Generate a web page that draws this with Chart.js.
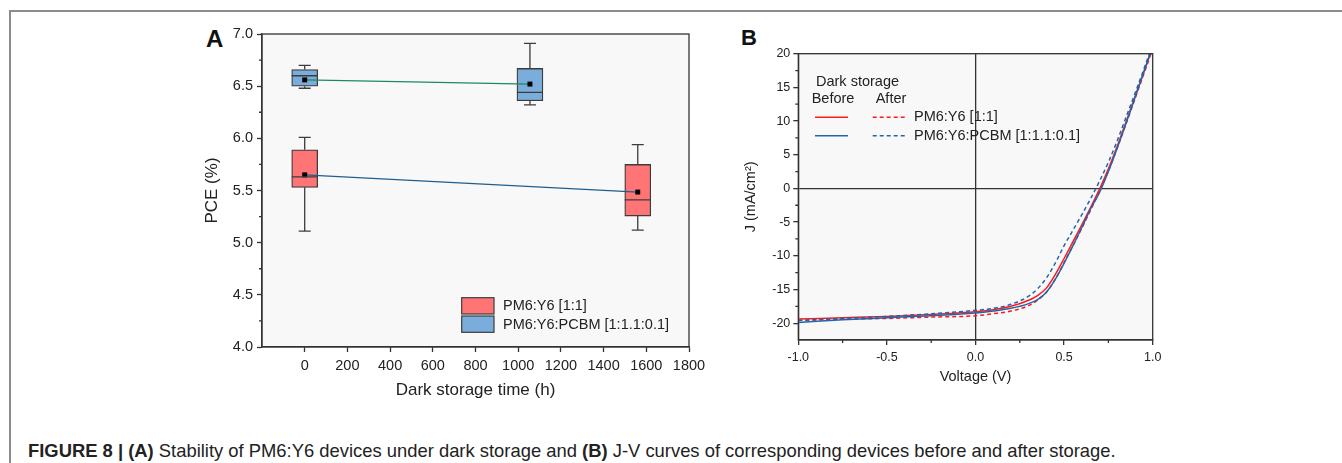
<!DOCTYPE html>
<html>
<head>
<meta charset="utf-8">
<script src="https://cdn.jsdelivr.net/npm/chart.js@4.4.1/dist/chart.umd.min.js"></script>
<style>
  body { margin: 0; background: #fff; width: 1342px; height: 463px; position: relative; overflow: hidden; font-family: 'Liberation Sans', Arial, sans-serif; }
  #frame { position: absolute; left: 9px; top: 10px; right: 0; bottom: 0; border-top: 2px solid #8c8c8c; border-left: 2px solid #8c8c8c; }
  .panel { position: absolute; font-weight: bold; color: #111; line-height: 1; }
  #chartA { position: absolute; left: 150px; top: 20px; }
  #chartB { position: absolute; left: 730px; top: 20px; }
  #caption { position: absolute; left: 28px; top: 441.5px; font-family: 'Liberation Sans', Arial, sans-serif; font-size: 18.4px; line-height: 1; color: #222; white-space: nowrap; }
</style>
</head>
<body>
<div id="frame"></div>
<div class="panel" style="left:206px; top:26.7px; font-size:24px;">A</div>
<div class="panel" style="left:741px; top:27.4px; font-size:22px;">B</div>
<canvas id="chartA" width="600" height="400"></canvas>
<canvas id="chartB" width="560" height="390"></canvas>
<div id="caption"><b>FIGURE 8 | (A)</b> Stability of PM6:Y6 devices under dark storage and <b>(B)</b> J-V curves of corresponding devices before and after storage.</div>

<script>
// ---- panel A: PCE box plots vs dark storage time ----
const hoursBinary = [0, 1560];      // PM6:Y6 [1:1]
const hoursTernary = [0, 1055];     // PM6:Y6:PCBM [1:1.1:0.1]

const binaryMin = [5.11, 5.12];
const binaryQ1 = [5.53, 5.255];
const binaryMedian = [5.63, 5.41];
const binaryQ3 = [5.89, 5.75];
const binaryMax = [6.01, 5.94];
const binaryMean = [5.65, 5.485];

const ternaryMin = [6.48, 6.32];
const ternaryQ1 = [6.50, 6.36];
const ternaryMedian = [6.60, 6.44];
const ternaryQ3 = [6.66, 6.67];
const ternaryMax = [6.70, 6.91];
const ternaryMean = [6.56, 6.52];

const hourTicks = [0, 200, 400, 600, 800, 1000, 1200, 1400, 1600, 1800];
const pceTicks = [4.0, 4.5, 5.0, 5.5, 6.0, 6.5, 7.0];
const pceMinorTicks = [4.25, 4.75, 5.25, 5.75, 6.25, 6.75];

// ---- panel B: J-V curves ----
const voltage = [-1, -0.75, -0.5, -0.25, 0, 0.1, 0.2, 0.3, 0.35, 0.4, 0.45, 0.5, 0.55, 0.6, 0.65, 0.7, 0.75, 0.8, 0.85, 0.9, 0.95, 1.0];
const jBinaryBefore = [-19.4, -19.2, -19.0, -18.7, -18.3, -18.0, -17.5, -16.6, -15.9, -14.8, -12.8, -10.4, -7.9, -5.4, -2.8, -0.1, 2.9, 6.3, 9.9, 13.6, 17.3, 21.0];
const jBinaryAfter = [-19.6, -19.4, -19.3, -19.1, -18.9, -18.6, -18.2, -17.4, -16.6, -15.4, -13.5, -11.0, -8.5, -5.9, -3.2, -0.4, 2.6, 6.0, 9.6, 13.3, 17.0, 20.7];
const jTernaryBefore = [-19.9, -19.5, -19.2, -18.9, -18.5, -18.2, -17.8, -17.1, -16.5, -15.4, -13.5, -11.1, -8.5, -5.8, -3.0, -0.6, 2.5, 6.0, 9.7, 13.5, 17.3, 21.1];
const jTernaryAfter = [-19.6, -19.3, -19.0, -18.6, -18.1, -17.8, -17.2, -16.0, -14.9, -13.3, -11.1, -8.5, -6.2, -3.9, -1.5, 1.1, 3.9, 7.1, 10.6, 14.1, 17.7, 21.4];

const voltTicks = [-1, -0.5, 0, 0.5, 1];
const voltMinorTicks = [-0.75, -0.25, 0.25, 0.75];
const currentTicks = [-20, -15, -10, -5, 0, 5, 10, 15, 20];
const currentMinorTicks = [-17.5, -12.5, -7.5, -2.5, 2.5, 7.5, 12.5, 17.5];

const axisColor = '#333';
const textColor = '#222';
const red = '#ff1a1a';
const blue = '#2166ac';

Chart.defaults.font.family = "'Liberation Sans', Arial, sans-serif";
Chart.defaults.color = textColor;

// grey plot background, closed frame and minor ticks
const framePlugin = {
  id: 'frame',
  beforeDraw(chart) {
    const a = chart.chartArea, ctx = chart.ctx;
    ctx.save();
    ctx.fillStyle = '#f8f8f8';
    ctx.fillRect(a.left, a.top, a.right - a.left, a.bottom - a.top);
    ctx.restore();
  },
  afterDraw(chart, args, opts) {
    const a = chart.chartArea, ctx = chart.ctx;
    ctx.save();
    ctx.strokeStyle = axisColor;
    ctx.lineWidth = 1.3;
    ctx.strokeRect(a.left, a.top, a.right - a.left, a.bottom - a.top);
    ctx.beginPath();
    (opts.minorY || []).forEach(v => {
      const y = chart.scales.y.getPixelForValue(v);
      ctx.moveTo(a.left - 3, y); ctx.lineTo(a.left, y);
    });
    (opts.minorX || []).forEach(v => {
      const x = chart.scales.x.getPixelForValue(v);
      ctx.moveTo(x, a.bottom); ctx.lineTo(x, a.bottom + 3);
    });
    ctx.stroke();
    ctx.restore();
  }
};

// whiskers and medians for the boxes
const whiskerPlugin = {
  id: 'whiskers',
  afterDatasetsDraw(chart) {
    const xs = chart.scales.x, ys = chart.scales.y, ctx = chart.ctx;
    const groups = [
      [hoursBinary, binaryMin, binaryQ1, binaryMedian, binaryQ3, binaryMax],
      [hoursTernary, ternaryMin, ternaryQ1, ternaryMedian, ternaryQ3, ternaryMax]
    ];
    ctx.save();
    ctx.strokeStyle = '#3c3c3c';
    ctx.lineWidth = 1.3;
    groups.forEach(([t, mn, q1, med, q3, mx]) => {
      t.forEach((h, i) => {
        const x = xs.getPixelForValue(h);
        ctx.beginPath();
        ctx.moveTo(x, ys.getPixelForValue(q3[i])); ctx.lineTo(x, ys.getPixelForValue(mx[i]));
        ctx.moveTo(x, ys.getPixelForValue(q1[i])); ctx.lineTo(x, ys.getPixelForValue(mn[i]));
        ctx.moveTo(x - 6, ys.getPixelForValue(mx[i])); ctx.lineTo(x + 6, ys.getPixelForValue(mx[i]));
        ctx.moveTo(x - 6, ys.getPixelForValue(mn[i])); ctx.lineTo(x + 6, ys.getPixelForValue(mn[i]));
        ctx.moveTo(x - 13, ys.getPixelForValue(med[i])); ctx.lineTo(x + 13, ys.getPixelForValue(med[i]));
        ctx.stroke();
      });
    });
    ctx.restore();
  }
};

const legendA = {
  id: 'legendA',
  afterDraw(chart) {
    const ctx = chart.ctx;
    const items = [['PM6:Y6 [1:1]', '#ff7575'], ['PM6:Y6:PCBM [1:1.1:0.1]', '#7aaddb']];
    ctx.save();
    ctx.font = "14.5px 'Liberation Sans', Arial, sans-serif";
    ctx.textBaseline = 'middle';
    items.forEach(([label, color], i) => {
      const y = 277.7 + i * 18.3;
      ctx.fillStyle = color;
      ctx.fillRect(311.7, y, 32.3, 16.3);
      ctx.strokeStyle = '#3c3c3c';
      ctx.lineWidth = 1.2;
      ctx.strokeRect(311.7, y, 32.3, 16.3);
      ctx.fillStyle = textColor;
      ctx.fillText(label, 353, y + 8.5);
    });
    ctx.restore();
  }
};

const meanLine = (hours, means, color) => ({
  type: 'line',
  data: hours.map((h, i) => ({ x: h, y: means[i] })),
  borderColor: color,
  borderWidth: 1.3,
  pointStyle: 'rect',
  pointRadius: 3.5,
  pointBackgroundColor: '#000',
  pointBorderColor: '#000',
  pointBorderWidth: 0,
  order: 0
});

const boxes = (hours, q1, q3, color) => ({
  type: 'bar',
  data: hours.map((h, i) => ({ x: h, y: [q1[i], q3[i]] })),
  backgroundColor: color,
  borderColor: '#3c3c3c',
  borderWidth: 1.3,
  borderSkipped: false,
  barThickness: 26,
  maxBarThickness: 26,
  grouped: false,
  order: 2
});

new Chart(document.getElementById('chartA'), {
  type: 'bar',
  data: {
    datasets: [
      meanLine(hoursBinary, binaryMean, '#1f5d8e'),
      meanLine(hoursTernary, ternaryMean, '#1c8a5e'),
      boxes(hoursBinary, binaryQ1, binaryQ3, '#ff7575'),
      boxes(hoursTernary, ternaryQ1, ternaryQ3, '#7aaddb')
    ]
  },
  options: {
    responsive: false,
    animation: false,
    devicePixelRatio: 1,
    layout: { padding: { top: 14, right: 61, left: 0, bottom: 0 } },
    plugins: {
      legend: { display: false },
      tooltip: { enabled: false },
      frame: { minorY: pceMinorTicks }
    },
    scales: {
      x: {
        type: 'linear', min: -200, max: 1800, offset: false,
        afterBuildTicks: s => { s.ticks = hourTicks.map(v => ({ value: v })); },
        afterFit: s => { s.height = 73; },
        grid: { drawOnChartArea: false, offset: false, tickLength: 5, tickColor: axisColor, tickWidth: 1.3 },
        border: { color: axisColor, width: 1.3 },
        ticks: { padding: 5, font: { size: 14.5 }, maxRotation: 0, autoSkip: false, callback: v => String(v) },
        title: { display: true, text: 'Dark storage time (h)', font: { size: 17 }, padding: { top: 0, bottom: 19 } }
      },
      y: {
        min: 4, max: 7,
        afterBuildTicks: s => { s.ticks = pceTicks.map(v => ({ value: v })); },
        afterFit: s => { s.width = 112; },
        grid: { drawOnChartArea: false, tickLength: 5, tickColor: axisColor, tickWidth: 1.3 },
        border: { color: axisColor, width: 1.3 },
        ticks: { padding: 4, font: { size: 14.5 }, callback: v => v.toFixed(1) },
        title: { display: true, text: 'PCE (%)', font: { size: 17 }, padding: { top: 52, bottom: 0 } }
      }
    }
  },
  plugins: [framePlugin, whiskerPlugin, legendA]
});

const legendB = {
  id: 'legendB',
  afterDraw(chart) {
    const ctx = chart.ctx;
    ctx.save();
    ctx.font = "14.5px 'Liberation Sans', Arial, sans-serif";
    ctx.textBaseline = 'middle';
    ctx.fillStyle = textColor;
    ctx.fillText('Dark storage', 86, 61.7);
    ctx.fillText('Before', 81.7, 79.3);
    ctx.fillText('After', 145.7, 79.3);
    const rows = [['PM6:Y6 [1:1]', red], ['PM6:Y6:PCBM [1:1.1:0.1]', blue]];
    rows.forEach(([label, color], i) => {
      const y = 97.3 + i * 18.4;
      ctx.strokeStyle = color;
      ctx.lineWidth = 1.5;
      ctx.setLineDash([]);
      ctx.beginPath(); ctx.moveTo(85, y); ctx.lineTo(118, y); ctx.stroke();
      ctx.setLineDash([4, 3]);
      ctx.beginPath(); ctx.moveTo(142.7, y); ctx.lineTo(176, y); ctx.stroke();
      ctx.fillStyle = textColor;
      ctx.fillText(label, 184, y);
    });
    ctx.restore();
  }
};

const jvCurve = (j, color, dashed) => ({
  data: voltage.map((v, i) => ({ x: v, y: j[i] })),
  borderColor: color,
  borderWidth: 1.5,
  borderDash: dashed ? [4, 3] : [],
  pointRadius: 0,
  cubicInterpolationMode: 'monotone',
  clip: 0
});

const zeroLine = c => (c.tick && c.tick.value === 0 ? axisColor : 'rgba(0,0,0,0)');

new Chart(document.getElementById('chartB'), {
  type: 'line',
  data: {
    datasets: [
      jvCurve(jTernaryAfter, blue, true),
      jvCurve(jTernaryBefore, blue, false),
      jvCurve(jBinaryBefore, red, false),
      jvCurve(jBinaryAfter, red, true)
    ]
  },
  options: {
    responsive: false,
    animation: false,
    devicePixelRatio: 1,
    layout: { padding: { top: 33.7, right: 137.3, left: 0, bottom: 0 } },
    plugins: {
      legend: { display: false },
      tooltip: { enabled: false },
      frame: { minorX: voltMinorTicks, minorY: currentMinorTicks }
    },
    scales: {
      x: {
        type: 'linear', min: -1, max: 1,
        afterBuildTicks: s => { s.ticks = voltTicks.map(v => ({ value: v })); },
        afterFit: s => { s.height = 70; },
        grid: { color: zeroLine, lineWidth: 1.3, tickLength: 5, tickColor: axisColor, tickWidth: 1.3 },
        border: { color: axisColor, width: 1.3 },
        ticks: { padding: 5, font: { size: 12.5 }, maxRotation: 0, autoSkip: false, callback: v => v.toFixed(1) },
        title: { display: true, text: 'Voltage (V)', font: { size: 14.5 }, padding: { top: 0, bottom: 24 } }
      },
      y: {
        min: -22.5, max: 20,
        afterBuildTicks: s => { s.ticks = currentTicks.map(v => ({ value: v })); },
        afterFit: s => { s.width = 68.3; },
        grid: { color: zeroLine, lineWidth: 1.3, tickLength: 5, tickColor: axisColor, tickWidth: 1.3 },
        border: { color: axisColor, width: 1.3 },
        ticks: { padding: 3, font: { size: 12.5 }, callback: v => String(v) },
        title: { display: true, text: 'J (mA/cm²)', font: { size: 14.5 }, padding: { top: 12, bottom: 0 } }
      }
    }
  },
  plugins: [framePlugin, legendB]
});
</script>
</body>
</html>
